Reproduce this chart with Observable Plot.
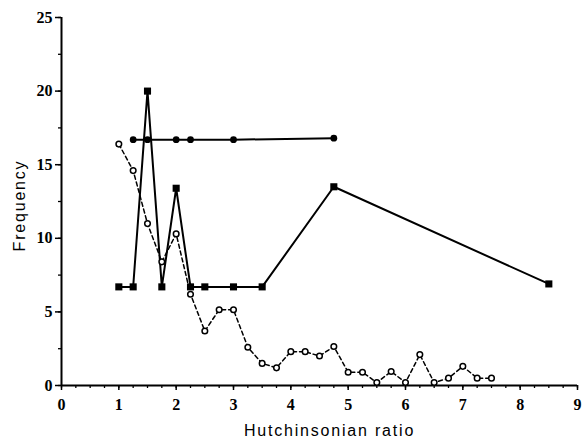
<!DOCTYPE html>
<html>
<head>
<meta charset="utf-8">
<script src="https://cdn.jsdelivr.net/npm/d3@7"></script>
<script src="https://cdn.jsdelivr.net/npm/@observablehq/plot@0.6"></script>
<style>
  html, body { margin: 0; padding: 0; background: #fff; }
  #chart svg { display: block; }
</style>
</head>
<body>
<div id="chart"></div>
<script>
// Filled-square series (solid line)
const squareX = [1, 1.25, 1.5, 1.75, 2, 2.25, 2.5, 3, 3.5, 4.75, 8.5];
const squareY = [6.7, 6.7, 20, 6.7, 13.4, 6.7, 6.7, 6.7, 6.7, 13.5, 6.9];

// Filled-circle series (solid horizontal line)
const dotX = [1.25, 1.5, 2, 2.25, 3, 4.75];
const dotY = [16.7, 16.7, 16.7, 16.7, 16.7, 16.8];

// Open-circle series (dashed line)
const openX = [1, 1.25, 1.5, 1.75, 2, 2.25, 2.5, 2.75, 3, 3.25, 3.5, 3.75, 4, 4.25, 4.5, 4.75, 5, 5.25, 5.5, 5.75, 6, 6.25, 6.5, 6.75, 7, 7.25, 7.5];
const openY = [16.4, 14.6, 11.0, 8.4, 10.3, 6.2, 3.7, 5.15, 5.15, 2.6, 1.5, 1.2, 2.3, 2.3, 2.0, 2.65, 0.9, 0.9, 0.2, 0.95, 0.2, 2.1, 0.2, 0.5, 1.3, 0.5, 0.5];

const xMajor = [0, 1, 2, 3, 4, 5, 6, 7, 8, 9];
const yMajor = [0, 5, 10, 15, 20, 25];
const xMinor = d3.range(0, 9.001, 0.25);
const yMinor = d3.range(0, 25.001, 2.5);

const squares = squareX.map((x, i) => ({x, y: squareY[i]}));
const dots = dotX.map((x, i) => ({x, y: dotY[i]}));
const opens = openX.map((x, i) => ({x, y: openY[i]}));

const tickFont = "'Liberation Serif', 'Times New Roman', serif";
const labelFont = "'Liberation Sans', Arial, Helvetica, sans-serif";

const plot = Plot.plot({
  width: 583,
  height: 439,
  marginLeft: 61,
  marginRight: 6,
  marginTop: 17,
  marginBottom: 54,
  style: {background: "#fff", color: "#000"},
  x: {domain: [0, 9]},
  y: {domain: [0, 25]},
  marks: [
    // minor ticks
    Plot.axisX({ticks: xMinor, tickSize: 3, tickFormat: () => "", label: null, strokeWidth: 1.3}),
    Plot.axisY({ticks: yMinor, tickSize: 3, tickFormat: () => "", label: null, strokeWidth: 1.3}),
    // major ticks with labels
    Plot.axisX({ticks: xMajor, tickSize: 5, tickPadding: 8, tickFormat: d3.format("d"),
      fontFamily: tickFont, fontWeight: "bold", fontSize: 16, strokeWidth: 1.5, label: null}),
    Plot.axisY({ticks: yMajor, tickSize: 6, tickPadding: 3, tickFormat: d3.format("d"),
      fontFamily: tickFont, fontWeight: "bold", fontSize: 16, strokeWidth: 1.5, label: null}),
    // axis lines
    Plot.ruleY([0], {stroke: "#000", strokeWidth: 2}),
    Plot.ruleX([0], {stroke: "#000", strokeWidth: 2}),
    // open-circle dashed series
    Plot.line(opens, {x: "x", y: "y", stroke: "#000", strokeWidth: 1.5, strokeDasharray: "4,3"}),
    // filled circle series
    Plot.line(dots, {x: "x", y: "y", stroke: "#000", strokeWidth: 2}),
    // filled square series
    Plot.line(squares, {x: "x", y: "y", stroke: "#000", strokeWidth: 2}),
    Plot.dot(opens, {x: "x", y: "y", r: 2.8, fill: "#fff", stroke: "#000", strokeWidth: 1.5}),
    Plot.dot(dots, {x: "x", y: "y", r: 3.4, fill: "#000", stroke: "none"}),
    Plot.dot(squares, {x: "x", y: "y", r: 4, symbol: "square", fill: "#000", stroke: "none"}),
    // axis titles
    Plot.text(["Hutchinsonian ratio"], {frameAnchor: "bottom", textAnchor: "middle", dx: 10, dy: 50, lineAnchor: "bottom",
      fontFamily: labelFont, fontSize: 16, fill: "#000"}),
    Plot.text(["Frequency"], {frameAnchor: "left", textAnchor: "middle", dx: -37, dy: 4, rotate: -90, lineAnchor: "bottom",
      fontFamily: labelFont, fontSize: 16, fill: "#000"})
  ]
});
d3.select(plot).selectAll("text").each(function() {
  const t = this.textContent;
  if (t === "Hutchinsonian ratio" || t === "Frequency") {
    d3.select(this).style("letter-spacing", "1.8px").style("fill", "#000");
  }
});
document.getElementById("chart").appendChild(plot);
</script>
</body>
</html>
